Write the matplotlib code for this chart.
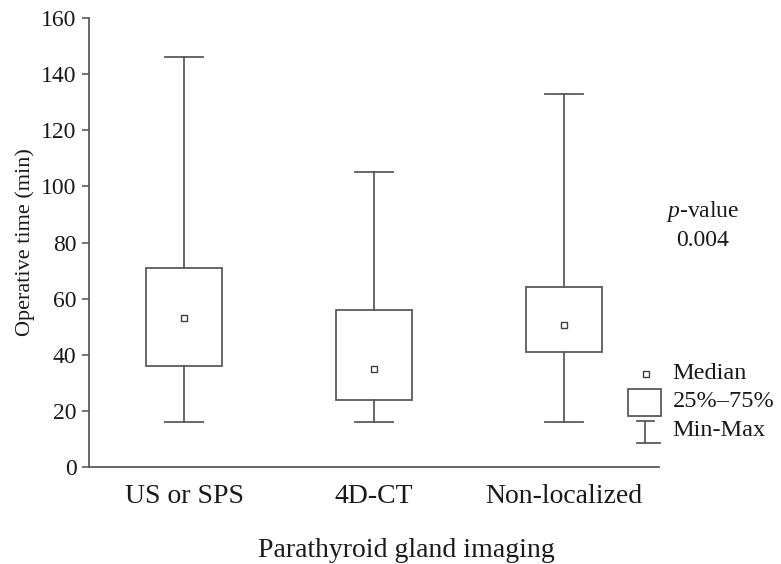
import matplotlib
matplotlib.use("Agg")
import matplotlib.pyplot as plt
from matplotlib.patches import Rectangle
from matplotlib.lines import Line2D

# Operative time (min) by parathyroid gland imaging
categories = ["US or SPS", "4D-CT", "Non-localized"]
minimum = [16, 16, 16]
q1 = [36, 24, 41]
median = [53, 35, 50.5]
q3 = [71, 56, 64]
maximum = [146, 105, 133]
yticks = [0, 20, 40, 60, 80, 100, 120, 140, 160]
p_value = "0.004"

plt.rcParams["font.family"] = ["Liberation Serif", "DejaVu Serif"]
plt.rcParams["mathtext.fontset"] = "custom"
plt.rcParams["mathtext.it"] = "Liberation Serif:italic"
plt.rcParams["mathtext.rm"] = "Liberation Serif"

fig = plt.figure(figsize=(7.81, 5.64), dpi=100)
ax = fig.add_axes([0.114, 0.172, 0.7298, 0.796])

line_color = "#5a5a5a"
text_color = "#1a1a1a"
stats = []
for i, cat in enumerate(categories):
    stats.append(dict(label=cat, whislo=minimum[i], q1=q1[i], med=median[i],
                      q3=q3[i], whishi=maximum[i], fliers=[]))

positions = list(range(1, len(categories) + 1))
ax.bxp(stats, positions=positions, widths=0.4, capwidths=0.2,
       showfliers=False, patch_artist=True,
       boxprops=dict(facecolor="white", edgecolor=line_color, linewidth=1.3),
       whiskerprops=dict(color=line_color, linewidth=1.3),
       capprops=dict(color=line_color, linewidth=1.3),
       medianprops=dict(linewidth=0))
ax.plot(positions, median, linestyle="none", marker="s", markersize=5,
        markerfacecolor="white", markeredgecolor="#404040", markeredgewidth=1.0,
        zorder=5)

ax.set_xlim(0.5, 3.5)
ax.set_ylim(0, 160)
ax.set_yticks(yticks)
ax.set_xticks(positions)
ax.set_xticklabels(categories, fontsize=20, color=text_color)
ax.tick_params(axis="x", length=0, pad=12)
ax.tick_params(axis="y", length=5, width=1.2, color=line_color, labelsize=17,
               labelcolor=text_color, pad=4)
for side in ("top", "right"):
    ax.spines[side].set_visible(False)
for side in ("left", "bottom"):
    ax.spines[side].set_color(line_color)
    ax.spines[side].set_linewidth(1.3)

ax.set_ylabel("Operative time (min)", fontsize=16, labelpad=4, color=text_color)
ax.set_xlabel("Parathyroid gland imaging", fontsize=20, color=text_color,
              va="center")
ax.xaxis.set_label_coords(0.556, -0.186)

# p-value annotation
fig.text(0.9, 0.625, "$\\it{p}$-value", ha="center", va="center", fontsize=17,
         color=text_color)
fig.text(0.9, 0.574, p_value, ha="center", va="center", fontsize=17,
         color=text_color)

# key for the box elements
fig.add_artist(Line2D([0.827], [0.337], marker="s", markersize=5, linestyle="none",
                      markerfacecolor="white", markeredgecolor="#404040",
                      markeredgewidth=1.0, transform=fig.transFigure))
fig.add_artist(Rectangle((0.804, 0.262), 0.042, 0.048, facecolor="white",
                         edgecolor=line_color, linewidth=1.3,
                         transform=fig.transFigure))
fig.add_artist(Line2D([0.826, 0.826], [0.214, 0.254], color=line_color,
                      linewidth=1.3, transform=fig.transFigure))
fig.add_artist(Line2D([0.815, 0.838], [0.254, 0.254], color=line_color,
                      linewidth=1.3, transform=fig.transFigure))
fig.add_artist(Line2D([0.815, 0.845], [0.214, 0.214], color=line_color,
                      linewidth=1.3, transform=fig.transFigure))
fig.text(0.861, 0.338, "Median", ha="left", va="center", fontsize=17.5, color=text_color)
fig.text(0.861, 0.288, "25%\u201375%", ha="left", va="center", fontsize=17.5, color=text_color)
fig.text(0.861, 0.236, "Min-Max", ha="left", va="center", fontsize=17.5, color=text_color)

fig.savefig("out.png", dpi=100)
